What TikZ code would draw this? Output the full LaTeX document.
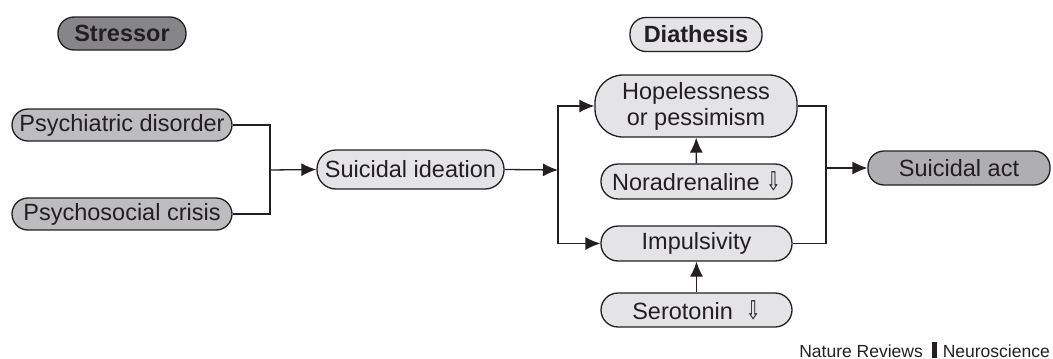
\documentclass[tikz,border=0pt]{standalone}
\usepackage{fontspec}
\setmainfont{Liberation Sans}
\newfontfamily\arrowfont{DejaVu Sans}
\usetikzlibrary{arrows.meta}

\definecolor{inkgray}{RGB}{35,31,32}
\definecolor{darkfill}{RGB}{134,134,137}
\definecolor{midfill}{RGB}{189,189,192}
\definecolor{actfill}{RGB}{175,175,178}
\definecolor{lightfill}{RGB}{228,228,230}

\newcommand{\lowarrow}{{\arrowfont\scalebox{0.75}[1.1]{⇩}}}

\tikzset{
    pill/.style={draw=inkgray, line width=1.3pt, rounded corners=16pt,
        text=inkgray, font=\fontsize{23.5}{26}\selectfont, inner sep=0pt,
        align=center},
    link/.style={draw=inkgray, line width=1.3pt},
    arrow/.style={link, -{Latex[length=15pt,width=13pt]}}
}

\begin{document}
\begin{tikzpicture}[x=1pt, y=-1pt]
    \useasboundingbox (0,0) rectangle (1053,359);

    % headings
    \node (stressor) [pill, fill=darkfill, minimum width=128pt, minimum height=33pt,
        font=\fontsize{23.5}{26}\selectfont\bfseries] at (122,33.5) {Stressor};
    \node (diathesis) [pill, fill=lightfill, minimum width=132pt, minimum height=34pt,
        font=\fontsize{23.5}{26}\selectfont\bfseries] at (696,34.5) {Diathesis};

    % stressor side
    \node (psych) [pill, fill=midfill, minimum width=220pt, minimum height=32pt]
        at (122,125) {Psychiatric disorder};
    \node (crisis) [pill, fill=midfill, minimum width=220pt, minimum height=32pt]
        at (122,214) {Psychosocial crisis};
    \node (ideation) [pill, fill=lightfill, minimum width=187pt, minimum height=39pt,
        rounded corners=19pt] at (410.5,169.5) {Suicidal ideation};

    % diathesis side
    \node (hope) [pill, fill=lightfill, minimum width=202pt, minimum height=62pt,
        rounded corners=28pt] at (696,106) {Hopelessness\\or pessimism};
    \node (nora) [pill, fill=lightfill, minimum width=191pt, minimum height=35pt,
        rounded corners=17pt] at (696.5,181.5) {Noradrenaline \lowarrow};
    \node (impuls) [pill, fill=lightfill, minimum width=191pt, minimum height=35pt,
        rounded corners=17pt] at (696.5,243.5) {Impulsivity};
    \node (sero) [pill, fill=lightfill, minimum width=191pt, minimum height=34pt,
        rounded corners=17pt] at (696.5,310) {Serotonin\ \ \lowarrow};
    \node (act) [pill, fill=actfill, minimum width=182pt, minimum height=34pt]
        at (959,168) {Suicidal act};

    \node (credit) [anchor=east, text=inkgray, font=\fontsize{17.5}{20}\selectfont,
        inner sep=0pt] at (1050,350)
        {Nature Reviews\hspace{9pt}\rule[-1pt]{5pt}{16pt}\hspace{6pt}Neuroscience};

    % connectors
    \coordinate (join) at (270,170);
    \coordinate (split) at (558,170);
    \coordinate (merge) at (826,168);

    \draw [link] (psych.east) -| (join);
    \draw [link] (crisis.east) -| (join);
    \draw [arrow] (join) -- (ideation.west);
    \draw [arrow] (ideation.east) -- (split);
    \draw [arrow] (split) |- (hope.west);
    \draw [arrow] (split) |- (impuls.west);
    \draw [arrow] (nora) -- (hope);
    \draw [arrow] (sero) -- (impuls);
    \draw [link] (hope.east) -| (merge);
    \draw [link] (impuls.east) -| (merge);
    \draw [arrow] (merge) -- (act.west);
\end{tikzpicture}
\end{document}
